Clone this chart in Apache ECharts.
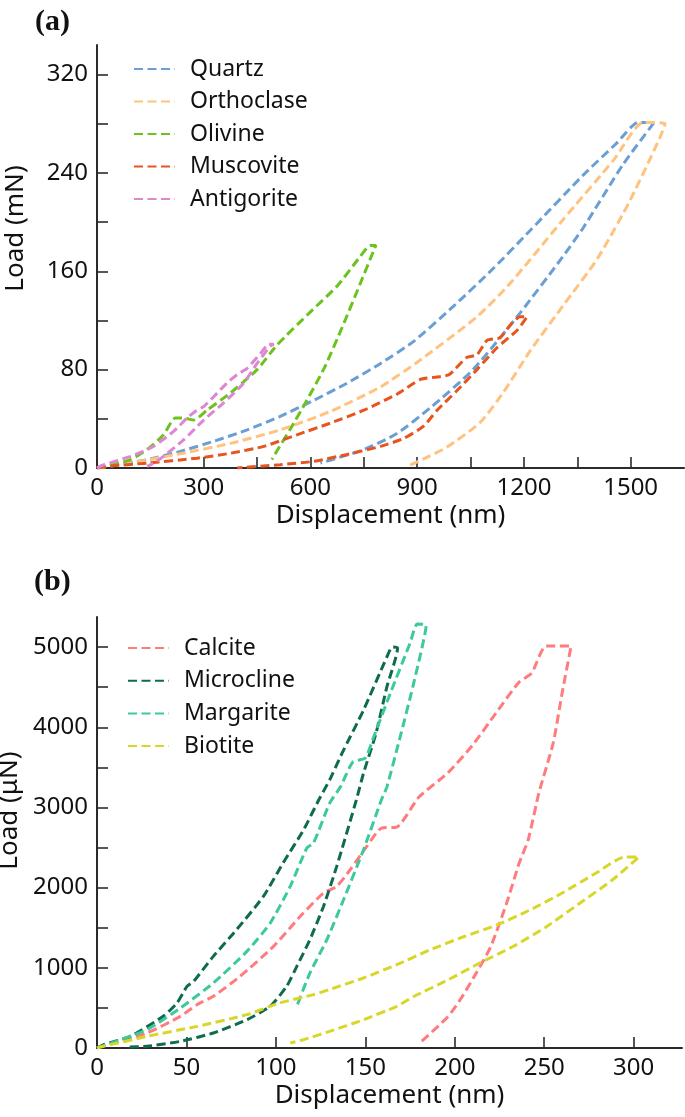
<!DOCTYPE html>
<html>
<head>
<meta charset="utf-8">
<script src="https://cdn.jsdelivr.net/npm/echarts@6/dist/echarts.min.js"></script>
<style>
html,body{margin:0;padding:0;background:#fff;}
#c{width:685px;height:1117px;}
</style>
</head>
<body>
<div id="c"></div>
<script>
// ---------- Panel (a): load in mN vs displacement in nm ----------
const seriesNamesA = ['Quartz', 'Orthoclase', 'Olivine', 'Muscovite', 'Antigorite'];
const quartz = [[0,0],[28,1.4],[141,6.8],[234,13.5],[328,21.7],[422,31],[515,42],[609,55],[703,69],[797,85],[890,103],[1000,131],[1113,162],[1217,193],[1366,238],[1460,264],[1521,281],[1566,281],[1479,247],[1366,195],[1302,169],[1189,126],[1057,80],[937,49],[843,28],[750,15],[680,8.5],[628,4]];
const orthoclase = [[0,0],[94,4],[234,11.6],[375,20],[515,31],[656,46],[797,66],[900,86],[1068,123],[1161,150],[1310,202],[1451,250],[1535,281],[1597,280],[1499,218],[1406,170],[1310,132],[1217,95],[1141,61],[1077,37],[984,17],[930,9],[878,2]];
const olivine = [[0,0],[28,1.4],[94,6.8],[141,15],[187,27],[220,40.6],[244,40.6],[272,39],[309,47],[375,61],[450,80],[506,100],[600,127],[675,148],[740,172],[768,181],[784,181],[778,177],[740,150],[690,115],[640,82],[586,53],[544,32],[506,14],[492,7]];
const muscovite = [[0,0],[28,1.4],[141,4],[281,8],[375,12],[469,17.6],[562,27],[656,36.5],[750,47],[843,60],[909,72],[956,74],[990,76],[1040,90],[1068,92],[1097,104],[1133,106],[1161,116],[1189,123],[1209,123],[1181,112],[1125,98],[1068,80],[1012,63],[956,47],[918,34],[862,24],[797,17.6],[703,11],[609,5.4],[515,2.7],[394,0]];
const antigorite = [[0,0],[14,2],[94,9.5],[159,17.6],[216,30],[253,40.6],[276,46],[300,50],[328,58],[365,69],[394,76],[422,81],[459,93],[483,100.7],[497,100.7],[487,99],[450,85],[412,69],[356,53],[300,39],[244,23],[187,9.5],[159,4],[141,1.4]];
const dataA = [quartz, orthoclase, olivine, muscovite, antigorite];
const colorsA = ['#6b9fd3', '#ffc27f', '#6cc21e', '#e8541e', '#de86d2'];
const xLabelsA = [0, 300, 600, 900, 1200, 1500];
const xTicksA = [0, 300, 450, 600, 750, 900, 1050, 1200, 1350, 1500];
const yLabelsA = [0, 80, 160, 240, 320];
const yTicksA = [0, 40, 80, 120, 160, 200, 240, 280, 320];

// ---------- Panel (b): load in μN vs displacement in nm ----------
const seriesNamesB = ['Calcite', 'Microcline', 'Margarite', 'Biotite'];
const calcite = [[0,0],[3.7,29],[28,187],[46.6,395],[55.9,540],[65,644],[80,894],[98.7,1268],[113.6,1642],[126.6,1933],[134,2016],[141.5,2223],[150.8,2514],[159,2743],[167.6,2755],[180,3130],[196,3429],[210,3778],[223,4177],[236,4564],[243,4676],[251,5012],[265,5012],[260,4426],[255,3803],[247,3180],[241,2594],[236,2307],[229,1808],[220,1259],[212,935],[204,636],[196,387],[181,75]];
const microcline = [[0,0],[3.7,42],[18.6,145],[37,395],[44.7,561],[50.3,769],[54,831],[65,1143],[78,1475],[93,1891],[104,2307],[115.5,2722],[124,3096],[130,3342],[137,3678],[149,4215],[162,4875],[165,5000],[168,4988],[162,4501],[156,3928],[149,3429],[145,3096],[134,2265],[126.6,1766],[119,1351],[111.7,1018],[106,769],[96.8,520],[83.8,353],[65,187],[46.6,83],[28,21],[16.8,12]];
const margarite = [[0,0],[3.7,29],[28,229],[46.6,499],[65,810],[83.8,1205],[96.8,1558],[108,2016],[117.3,2494],[121,2556],[130,3050],[136,3254],[143,3566],[150,3616],[154,3840],[164,4426],[175,5050],[179,5287],[184,5274],[176.5,4501],[169,3840],[162,3254],[159,3096],[149,2473],[137.8,1849],[128.5,1351],[119,935],[111.7,520]];
const biotite = [[0,0],[3.7,21],[28,145],[56,270],[83.8,416],[102,561],[121,665],[130,730],[148.6,870],[167.6,1040],[186,1222],[204.5,1384],[223.5,1534],[242,1721],[260,1933],[279,2182],[295,2382],[303,2382],[288,2095],[270,1808],[251,1509],[232,1259],[214,1060],[196,848],[176.5,636],[167.6,520],[149,353],[130,208],[115.5,104],[108,62]];
const dataB = [calcite, microcline, margarite, biotite];
const colorsB = ['#ff7b7d', '#0f6b4f', '#3cc99b', '#d9d62a'];
const xLabelsB = [0, 50, 100, 150, 200, 250, 300];
const yLabelsB = [0, 1000, 2000, 3000, 4000, 5000];
const yTicksB = [0, 500, 1000, 1500, 2000, 2500, 3000, 3500, 4000, 4500, 5000];

const FONT = 'Noto Sans';
const AX = '#2b2b2b';

function mkSeries(names, data, colors, idx) {
  return names.map((n, i) => ({
    name: n, type: 'line', xAxisIndex: idx, yAxisIndex: idx,
    data: data[i], symbol: 'none', showSymbol: false, smooth: 0.2, animation: false,
    lineStyle: { color: colors[i], width: 3, type: [9, 4.5] },
    itemStyle: { color: colors[i] }
  }));
}

function xAxis(idx, max, labels, ticks) {
  return {
    type: 'value', gridIndex: idx, min: 0, max: max,
    name: 'Displacement (nm)', nameLocation: 'middle', nameGap: 35,
    nameTextStyle: { fontFamily: FONT, fontSize: 26, color: '#111' },
    axisLine: { show: true, onZero: false, lineStyle: { color: AX, width: 2 } },
    axisTick: { show: true, inside: true, length: 11, customValues: ticks, lineStyle: { color: AX, width: 1.6 } },
    axisLabel: { customValues: labels, formatter: v => String(v), fontFamily: FONT, fontSize: 24, color: '#111', margin: 8 },
    splitLine: { show: false }
  };
}
function yAxis(idx, max, labels, ticks, name, pad) {
  return {
    type: 'value', gridIndex: idx, min: 0, max: max,
    name: name, nameLocation: 'middle', nameGap: 68,
    nameTextStyle: { fontFamily: FONT, fontSize: 26, color: '#111', padding: pad },
    axisLine: { show: true, lineStyle: { color: AX, width: 2 } },
    axisTick: { show: true, inside: true, length: 11, customValues: ticks, lineStyle: { color: AX, width: 1.6 } },
    axisLabel: { customValues: labels, formatter: v => String(v), fontFamily: FONT, fontSize: 24, color: '#111', margin: 9 },
    splitLine: { show: false }
  };
}

const legendText = { fontFamily: FONT, fontSize: 23, color: '#111', lineHeight: 24, padding: [0, 0, 0, 10] };

const chart = echarts.init(document.getElementById('c'), null, { renderer: 'canvas' });
chart.setOption({
  backgroundColor: '#fff',
  animation: false,
  title: [
    { text: '(a)', left: 30, top: 2, textStyle: { fontFamily: 'Liberation Serif', fontWeight: 'bold', fontSize: 30, color: '#111' } },
    { text: '(b)', left: 29, top: 562, textStyle: { fontFamily: 'Liberation Serif', fontWeight: 'bold', fontSize: 30, color: '#111' } }
  ],
  grid: [
    { left: 97, top: 45, width: 587, height: 423, outerBoundsMode: 'none', containLabel: false },
    { left: 97, top: 617, width: 585, height: 431, outerBoundsMode: 'none', containLabel: false }
  ],
  legend: [
    { data: seriesNamesA, orient: 'vertical', left: 133, top: 57, padding: 0, itemWidth: 41, itemHeight: 14, itemGap: 8.5,
      itemStyle: { opacity: 0 }, textStyle: legendText },
    { data: seriesNamesB, orient: 'vertical', left: 127, top: 636, padding: 0, itemWidth: 41, itemHeight: 14, itemGap: 8.7,
      itemStyle: { opacity: 0 }, textStyle: legendText }
  ],
  xAxis: [
    xAxis(0, 1650, xLabelsA, xTicksA),
    xAxis(1, 327, xLabelsB, xLabelsB)
  ],
  yAxis: [
    yAxis(0, 344, yLabelsA, yTicksA, 'Load (mN)', [0, 0, 0, 56]),
    yAxis(1, 5375, yLabelsB, yTicksB, 'Load (μN)', [0, 0, 0, 44])
  ],
  series: mkSeries(seriesNamesA, dataA, colorsA, 0).concat(mkSeries(seriesNamesB, dataB, colorsB, 1))
});
</script>
</body>
</html>
